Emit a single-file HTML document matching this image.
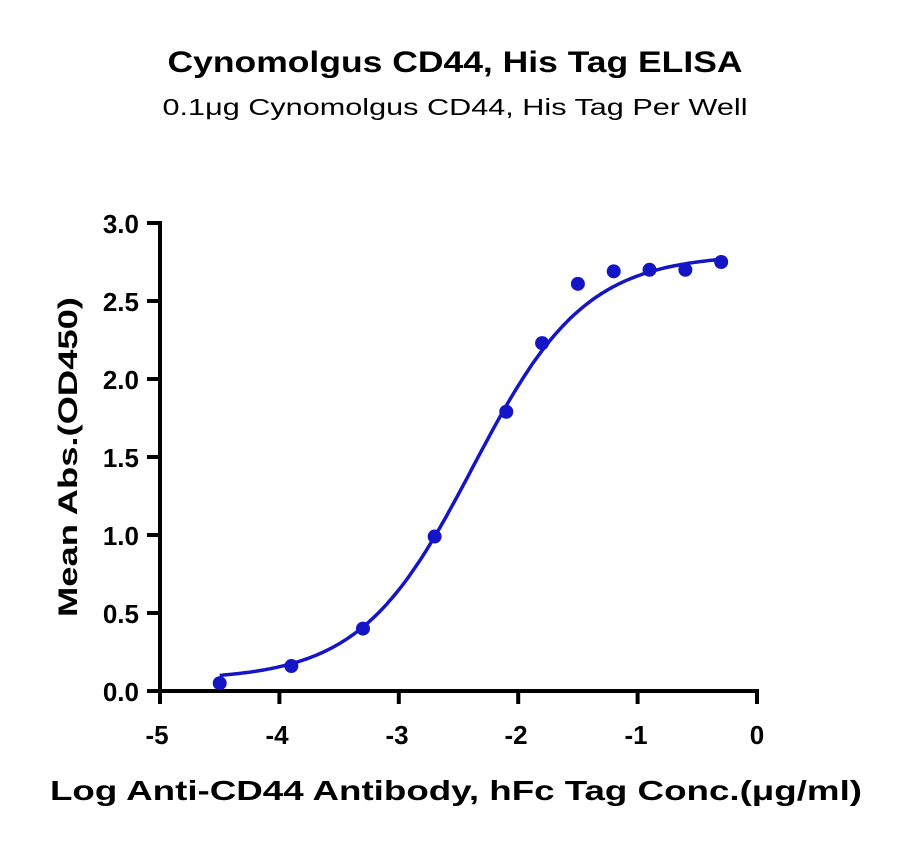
<!DOCTYPE html>
<html><head><style>body{margin:0;background:#fff}svg{display:block}</style></head><body>
<svg width="900" height="846" xmlns="http://www.w3.org/2000/svg" font-family="Liberation Sans, sans-serif">
<text x="455" y="72" font-size="30" font-weight="bold" text-anchor="middle" textLength="575" lengthAdjust="spacingAndGlyphs">Cynomolgus CD44, His Tag ELISA</text>
<text x="455" y="115" font-size="23" text-anchor="middle" textLength="585" lengthAdjust="spacingAndGlyphs">0.1μg Cynomolgus CD44, His Tag Per Well</text>
<g stroke="#000" stroke-width="4" fill="none">
<line x1="160" y1="221" x2="160" y2="693"/>
<line x1="158" y1="691" x2="759" y2="691"/>
<line x1="147" y1="223" x2="160" y2="223"/>
<line x1="147" y1="301" x2="160" y2="301"/>
<line x1="147" y1="379" x2="160" y2="379"/>
<line x1="147" y1="457" x2="160" y2="457"/>
<line x1="147" y1="535" x2="160" y2="535"/>
<line x1="147" y1="613" x2="160" y2="613"/>
<line x1="147" y1="691" x2="160" y2="691"/>
<line x1="160" y1="691" x2="160" y2="704"/>
<line x1="279.4" y1="691" x2="279.4" y2="704"/>
<line x1="398.8" y1="691" x2="398.8" y2="704"/>
<line x1="518.2" y1="691" x2="518.2" y2="704"/>
<line x1="637.6" y1="691" x2="637.6" y2="704"/>
<line x1="757" y1="691" x2="757" y2="704"/>
</g>
<g font-size="26" font-weight="bold" text-anchor="end">
<text x="139" y="233">3.0</text><text x="139" y="311">2.5</text><text x="139" y="389">2.0</text>
<text x="139" y="467">1.5</text><text x="139" y="545">1.0</text><text x="139" y="623">0.5</text><text x="139" y="701">0.0</text>
</g>
<g font-size="26" font-weight="bold" text-anchor="middle">
<text x="157" y="744">-5</text><text x="277" y="744">-4</text><text x="397" y="744">-3</text>
<text x="516" y="744">-2</text><text x="636" y="744">-1</text><text x="757" y="744">0</text>
</g>
<text transform="translate(77,457) rotate(-90)" font-size="27" font-weight="bold" text-anchor="middle" textLength="320" lengthAdjust="spacingAndGlyphs">Mean Abs.(OD450)</text>
<text x="456" y="800" font-size="28" font-weight="bold" text-anchor="middle" textLength="812" lengthAdjust="spacingAndGlyphs">Log Anti-CD44 Antibody, hFc Tag Conc.(μg/ml)</text>
<path id="curve" fill="none" stroke="#1515c8" stroke-width="3.5"/>
<g id="pts" fill="#1515c8"></g>
</svg>
<script>
var X=function(x){return 160+(x+5)*119.4},Y=function(y){return 691-y*156};
var b=0.07,t=2.80,c=-2.38,h=0.92,d="";
for(var x=-4.5;x<=-0.29;x+=0.02){var y=b+(t-b)/(1+Math.pow(10,h*(c-x)));d+=(d?"L":"M")+X(x).toFixed(1)+","+Y(y).toFixed(1);}
document.getElementById("curve").setAttribute("d",d);
var px=[-4.5,-3.9,-3.3,-2.7,-2.1,-1.8,-1.5,-1.2,-0.9,-0.6,-0.3],py=[0.05,0.16,0.40,0.99,1.79,2.23,2.61,2.69,2.70,2.70,2.75],g=document.getElementById("pts"),s="";
for(var i=0;i<px.length;i++)s+='<circle cx="'+X(px[i])+'" cy="'+Y(py[i])+'" r="7"/>';
g.innerHTML=s;
</script>
</body></html>
